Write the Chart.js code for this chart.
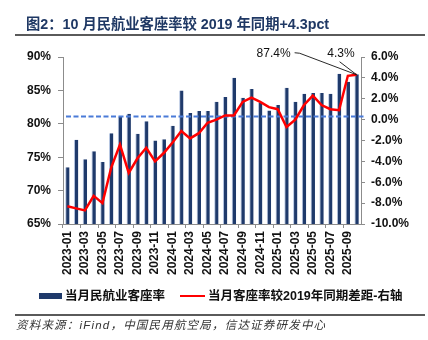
<!DOCTYPE html>
<html>
<head>
<meta charset="utf-8">
<script src="https://cdn.jsdelivr.net/npm/chart.js@4.4.1/dist/chart.umd.min.js"></script>
<style>
  html, body { margin: 0; padding: 0; background: #ffffff; }
  #wrap { position: relative; width: 428px; height: 340px; overflow: hidden;
          font-family: "Liberation Sans", Arial, "Noto Sans CJK SC", sans-serif; }
  #chart { position: absolute; left: 0; top: 0; }
  .title { position: absolute; left: 26px; top: 15px; font-size: 14.3px; font-weight: bold;
           color: #1f3864; white-space: nowrap; line-height: 18px; }
  .rule { position: absolute; left: 15px; width: 410px; height: 1.5px; background: #5a5a5a; }
  .legend { position: absolute; top: 288px; left: 0; height: 16px; font-size: 12.5px; font-weight: bold;
            color: #111; white-space: nowrap; line-height: 16px; }
  .legend span { position: absolute; top: 0; }
  .swatch-bar { position: absolute; left: 39px; top: 5px; width: 23px; height: 6px; background: #1f3a6b; }
  .swatch-line { position: absolute; left: 180px; top: 7px; width: 25px; height: 2px; background: #ff0000; }
  .source { position: absolute; left: 16px; top: 317px; font-size: 11.5px; font-style: italic;
            color: #333; white-space: nowrap; letter-spacing: 1.2px; line-height: 16px; }
</style>
</head>
<body>
<div id="wrap">
  <canvas id="chart" width="428" height="340"></canvas>
  <div class="title">图2：10 月民航业客座率较 2019 年同期+4.3pct</div>
  <div class="rule" style="top:34px"></div>
  <div class="legend">
    <div class="swatch-bar"></div>
    <span style="left:65px">当月民航业客座率</span>
    <div class="swatch-line"></div>
    <span style="left:208px">当月客座率较2019年同期差距-右轴</span>
  </div>
  <div class="rule" style="top:314px"></div>
  <div class="source">资料来源：iFind，中国民用航空局，信达证券研发中心</div>
</div>
<script>
// Monthly categories, 2023-01 .. 2025-10
const months = [
  '2023-01','2023-02','2023-03','2023-04','2023-05','2023-06','2023-07','2023-08','2023-09','2023-10','2023-11','2023-12',
  '2024-01','2024-02','2024-03','2024-04','2024-05','2024-06','2024-07','2024-08','2024-09','2024-10','2024-11','2024-12',
  '2025-01','2025-02','2025-03','2025-04','2025-05','2025-06','2025-07','2025-08','2025-09','2025-10'
];

// Monthly passenger load factor (%), left axis
const loadFactor = [
  73.5, 77.6, 74.7, 75.9, 74.3, 78.6, 81.1, 81.5, 78.5, 80.4, 77.5, 77.7,
  79.7, 85.0, 81.6, 81.9, 81.9, 83.3, 84.0, 86.9, 83.9, 85.2, 83.2, 82.0,
  82.8, 85.4, 83.3, 84.5, 84.6, 84.6, 84.5, 87.5, 86.3, 87.4
];

// Gap versus the same month of 2019 (pct), right axis
const gapVs2019 = [
  -8.3, -8.5, -8.7, -7.3, -8.0, -4.6, -2.4, -5.1, -3.7, -2.7, -4.0, -3.2,
  -2.2, -1.1, -1.8, -1.3, -0.3, 0.0, 0.4, 0.4, 1.7, 2.1, 1.7, 1.2,
  1.0, -0.7, 0.0, 1.4, 2.3, 1.4, 1.0, 0.9, 4.2, 4.3
];

// Axis ranges / tick steps
const leftTicks = { min: 65, max: 90, step: 5 };
const rightTicks = { min: -10, max: 6, step: 2 };

// Dashed reference level on the right axis
const referenceGap = 0.3;

// Callout texts for the latest month
const latestLoadLabel = '87.4%';
const latestGapLabel = '4.3%';

const tickFont = { family: '"Liberation Sans", Arial, sans-serif', size: 12, weight: 'bold' };
const axisGray = '#8c8c8c';

// Dashed reference line, drawn after the bars and before the red line
const referenceLine = {
  id: 'referenceLine',
  afterDatasetDraw(chart, args) {
    if (args.index !== 0) return;
    const { ctx, chartArea } = chart;
    const y = chart.scales.y1.getPixelForValue(referenceGap);
    ctx.save();
    ctx.strokeStyle = '#4a7bd8';
    ctx.lineWidth = 2;
    ctx.setLineDash([5, 2.5]);
    ctx.beginPath();
    ctx.moveTo(chartArea.left + 3, y);
    ctx.lineTo(chartArea.right + 4, y);
    ctx.stroke();
    ctx.restore();
  }
};

// Callouts pointing at the latest month
const callouts = {
  id: 'callouts',
  afterDraw(chart) {
    const { ctx } = chart;
    const pts = chart.getDatasetMeta(1).data;
    const p = pts[pts.length - 1];
    const ax = p.x, ay = p.y;
    ctx.save();
    ctx.strokeStyle = '#111';
    ctx.lineWidth = 0.9;
    ctx.beginPath();
    ctx.moveTo(ax - 62, ay - 22);
    ctx.lineTo(ax - 57, ay - 21.5);
    ctx.lineTo(ax, ay);
    ctx.moveTo(ax - 17, ay - 13);
    ctx.lineTo(ax, ay);
    ctx.stroke();
    ctx.fillStyle = '#111';
    ctx.font = '12px "Liberation Sans", Arial, sans-serif';
    ctx.textBaseline = 'middle';
    ctx.textAlign = 'right';
    ctx.fillText(latestLoadLabel, ax - 66, ay - 21);
    ctx.fillText(latestGapLabel, ax - 2, ay - 21);
    ctx.restore();
  }
};

new Chart(document.getElementById('chart'), {
  data: {
    labels: months,
    datasets: [
      {
        type: 'bar',
        label: '当月民航业客座率',
        data: loadFactor,
        yAxisID: 'y',
        backgroundColor: '#1f3a6b',
        borderColor: 'rgba(120,150,200,0.55)',
        borderWidth: { left: 1, right: 0, top: 0, bottom: 0 },
        barPercentage: 0.5,
        categoryPercentage: 1.0,
        order: 2
      },
      {
        type: 'line',
        label: '当月客座率较2019年同期差距-右轴',
        data: gapVs2019,
        yAxisID: 'y1',
        borderColor: '#ff0000',
        borderWidth: 2.5,
        pointRadius: 0,
        tension: 0,
        fill: false,
        order: 1
      }
    ]
  },
  options: {
    responsive: false,
    animation: false,
    devicePixelRatio: 1,
    layout: { padding: { top: 57, left: 0, right: 0, bottom: 0 } },
    plugins: { legend: { display: false }, tooltip: { enabled: false } },
    scales: {
      x: {
        offset: true,
        border: { display: true, color: axisGray, width: 1 },
        grid: {
          display: true,
          offset: true,
          drawOnChartArea: false,
          tickLength: 4,
          tickColor: (c) => (c.index % 2 === 0 ? axisGray : 'rgba(0,0,0,0)')
        },
        ticks: {
          autoSkip: false,
          maxRotation: 90,
          minRotation: 90,
          padding: 3,
          color: '#111',
          font: tickFont,
          callback: (v, i) => (i % 2 === 0 ? months[i] : '')
        },
        afterFit: (s) => { s.height = 116; }
      },
      y: {
        position: 'left',
        min: leftTicks.min,
        max: leftTicks.max,
        border: { display: true, color: axisGray, width: 1 },
        grid: { display: true, drawOnChartArea: false, tickLength: 5, tickColor: axisGray },
        ticks: {
          stepSize: leftTicks.step,
          padding: 7,
          color: '#111',
          font: tickFont,
          callback: (v) => v + '%'
        },
        afterFit: (s) => { s.width = 63; }
      },
      y1: {
        position: 'right',
        min: rightTicks.min,
        max: rightTicks.max,
        border: { display: true, color: axisGray, width: 1 },
        grid: { display: true, drawOnChartArea: false, tickLength: 4, tickColor: axisGray },
        ticks: {
          stepSize: rightTicks.step,
          padding: 6,
          color: '#111',
          font: tickFont,
          callback: (v) => v.toFixed(1) + '%'
        },
        afterFit: (s) => { s.width = 67; }
      }
    }
  },
  plugins: [referenceLine, callouts]
});
</script>
</body>
</html>
